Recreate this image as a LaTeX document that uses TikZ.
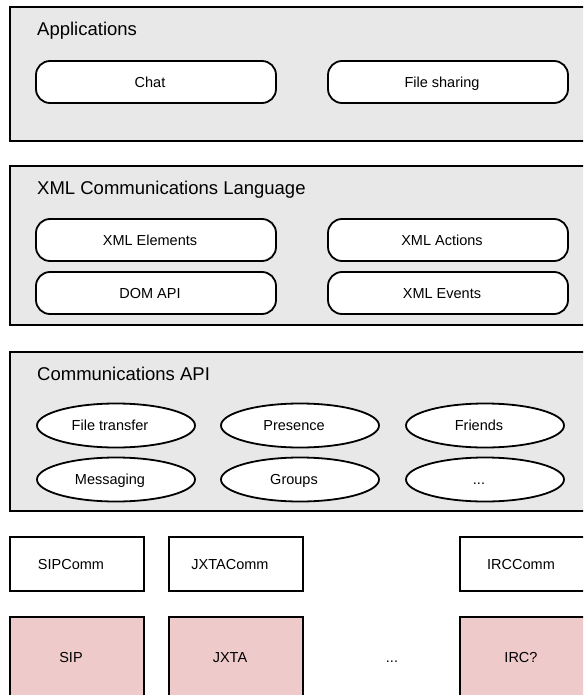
\documentclass[tikz,border=0pt]{standalone}
\usepackage{fontspec}
\setmainfont{Liberation Sans}
\usetikzlibrary{shapes.geometric}
\definecolor{panelgray}{HTML}{E8E8E8}
\definecolor{protored}{HTML}{EFCACA}
\tikzset{
  panel/.style={draw=black, line width=1.8pt, fill=panelgray},
  paneltitle/.style={anchor=base west, inner sep=0pt, font=\fontsize{18.5}{22}\selectfont},
  labeltext/.style={font=\fontsize{14.5}{17}\selectfont, text height=10.4pt, text depth=0pt,
    execute at end node={\hspace*{12pt}}},
  roundbox/.style={draw=black, line width=1.8pt, fill=white, rounded corners=14pt,
    minimum width=240pt, minimum height=42pt, inner sep=0pt, labeltext},
  oval/.style={ellipse, draw=black, line width=1.8pt, fill=white,
    minimum width=158pt, minimum height=44pt, inner sep=0pt, labeltext},
  commbox/.style={draw=black, line width=1.8pt, fill=white,
    minimum width=134pt, minimum height=54pt, inner sep=0pt, labeltext},
  protobox/.style={draw=black, line width=1.8pt, fill=protored,
    minimum width=134pt, minimum height=80pt, inner sep=0pt, labeltext},
}
\begin{document}
\begin{tikzpicture}[x=1pt, y=-1pt]
  \clip (0,0) rectangle (583,695);
  \fill[white] (0,0) rectangle (583,695);

  % Applications layer
  \draw[panel] (10,7) rectangle (610,141);
  \node[paneltitle] (apptitle) at (37,35.7) {Applications};
  \node[roundbox] (chat) at (156,82) {Chat};
  \node[roundbox] (filesharing) at (448,82) {File sharing};

  % XML communications language layer
  \draw[panel] (10,166) rectangle (610,325);
  \node[paneltitle] (xmltitle) at (37,194.5) {XML Communications Language};
  \node[roundbox] (xmlelements) at (156,240) {XML Elements};
  \node[roundbox] (xmlactions) at (448,240) {XML Actions};
  \node[roundbox] (domapi) at (156,293) {DOM API};
  \node[roundbox] (xmlevents) at (448,293) {XML Events};

  % Communications API layer
  \draw[panel] (10,352) rectangle (610,511);
  \node[paneltitle] (apititle) at (37,380.5) {Communications API};
  \node[oval] (filetransfer) at (116,425.5) {File transfer};
  \node[oval] (presence) at (300,425.5) {Presence};
  \node[oval] (friends) at (485,425.5) {Friends};
  \node[oval] (messaging) at (116,479.5) {Messaging};
  \node[oval] (groups) at (300,479.5) {Groups};
  \node[oval] (moreapi) at (485,479.5) {...};

  % Protocol adapters
  \node[commbox] (sipcomm) at (77,564) {SIPComm};
  \node[commbox] (jxtacomm) at (236,564) {JXTAComm};
  \node[commbox] (irccomm) at (527,564) {IRCComm};

  % Protocols
  \node[protobox] (sip) at (77,657) {SIP};
  \node[protobox] (jxta) at (236,657) {JXTA};
  \node[protobox] (irc) at (527,657) {IRC?};
  \node[labeltext, inner sep=0pt] (moreproto) at (398,657) {...};
\end{tikzpicture}
\end{document}
